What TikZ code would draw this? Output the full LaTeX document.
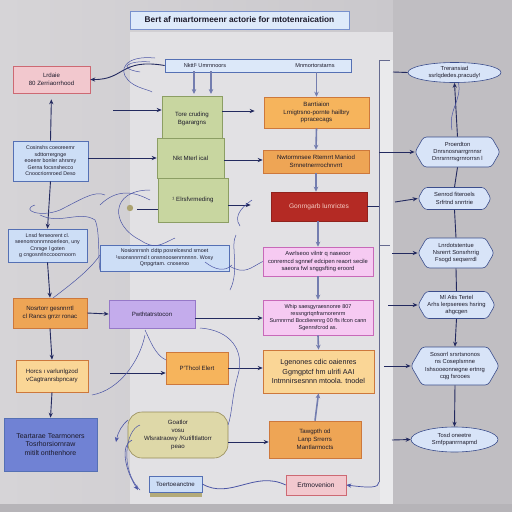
\documentclass[tikz,border=0pt]{standalone}
\usepackage{fontspec}
\setmainfont{Liberation Sans}
\usetikzlibrary{shapes.geometric,shapes.symbols,arrows.meta}
\definecolor{bgA}{RGB}{214,212,215}
\definecolor{bgB}{RGB}{202,200,204}
\definecolor{rightbg}{RGB}{192,190,194}
\definecolor{panelc}{RGB}{226,225,228}
\definecolor{stripc}{RGB}{234,234,236}
\definecolor{bottomc}{RGB}{182,180,184}
\definecolor{navy}{RGB}{35,42,95}
\definecolor{midblue}{RGB}{115,125,175}
\definecolor{curlc}{RGB}{75,85,165}
\definecolor{txt}{RGB}{28,26,42}
\definecolor{titlef}{RGB}{222,234,250}
\definecolor{titled}{RGB}{120,145,205}
\definecolor{pinkf}{RGB}{242,200,206}
\definecolor{pinkd}{RGB}{205,105,115}
\definecolor{greenf}{RGB}{200,214,160}
\definecolor{greend}{RGB}{140,158,100}
\definecolor{orf}{RGB}{246,180,92}
\definecolor{ord}{RGB}{205,120,60}
\definecolor{or2f}{RGB}{238,165,85}
\definecolor{redf}{RGB}{180,42,36}
\definecolor{redt}{RGB}{245,205,195}
\definecolor{magf}{RGB}{246,202,242}
\definecolor{magd}{RGB}{200,105,185}
\definecolor{ltorf}{RGB}{250,214,150}
\definecolor{bluef}{RGB}{205,222,246}
\definecolor{blued}{RGB}{85,112,180}
\definecolor{purf}{RGB}{196,172,236}
\definecolor{purd}{RGB}{150,120,200}
\definecolor{deepbf}{RGB}{112,130,212}
\definecolor{olivef}{RGB}{222,216,168}
\definecolor{olived}{RGB}{150,140,90}
\definecolor{hexf}{RGB}{216,228,248}
\definecolor{hexd}{RGB}{60,78,140}
\begin{document}
\begin{tikzpicture}[x=1pt,y=-1pt,
  box/.style={draw, line width=0.6pt, align=center, inner sep=1pt, text=txt,
    font=\fontsize{6.1}{7.8}\selectfont},
  hexa/.style={signal, signal to=west and east, signal pointer angle=120, rounded corners=3pt,
    draw=hexd, fill=hexf, line width=0.6pt, align=center, inner sep=0pt, text=txt,
    font=\fontsize{5.8}{7.3}\selectfont},
  ell/.style={ellipse, draw=hexd, fill=hexf, line width=0.6pt, align=center, inner sep=0pt,
    text=txt, font=\fontsize{5.8}{7.3}\selectfont},
  conn/.style={draw=navy, line width=0.9pt, -{Stealth[length=5pt,width=4.2pt]}},
  plain/.style={draw=navy, line width=0.9pt},
  midc/.style={draw=midblue, line width=1.6pt, -{Stealth[length=5pt,width=4.6pt]}},
  curl/.style={draw=curlc, line width=0.5pt},
]
\useasboundingbox (0,0) rectangle (512,512);
% background
\fill[bgB] (0,0) rectangle (512,512);
\shade[left color=bgA, right color=bgB] (0,0) rectangle (393,512);
\fill[rightbg] (393,0) rectangle (512,512);
\fill[panelc] (130,32) rectangle (393,505);
\fill[stripc] (380,60) rectangle (393,505);
\fill[bottomc] (0,504) rectangle (512,512);

% title
\node[box, draw=titled, fill=titlef, minimum width=219pt, minimum height=18pt,
  font=\bfseries\fontsize{8.3}{10}\selectfont] (title) at (239.5,20)
  {Bert af mıartormeenr actorie for mtotenraication};

% top bar
\node[box, draw=blued, fill=bluef!70!white, minimum width=186pt, minimum height=13pt] (topbar) at (258,65.5) {};
\node[font=\fontsize{5.6}{6}\selectfont, text=txt] (tb1) at (205,65.5) {Nkttl¹ Umrnnoors};
\node[font=\fontsize{5.6}{6}\selectfont, text=txt] (tb2) at (315,65.5) {Mnmortorstarns};

% left column
\node[box, draw=pinkd, fill=pinkf, minimum width=77pt, minimum height=27pt] (pinkL) at (51.5,79.5)
  {Lrdaie\\80 Zerriaorrhood};
\node[box, draw=blued, fill=bluef, minimum width=75pt, minimum height=40pt,
  font=\fontsize{5.3}{6.5}\selectfont] (b13) at (50.5,161)
  {Cosinshs coeoreemr\\sdttorrergnge\\eoeenr bonler ahrsmy\\Gerna focsnshecco\\Cnoocriornroed Deso};
\node[box, draw=blued, fill=bluef, minimum width=79pt, minimum height=33pt,
  font=\fontsize{5.3}{6.5}\selectfont] (b14) at (47.5,245.5)
  {Lnsd ferseorent cl.\\seenonronnrnnoerleon, uny\\Cnrsge l goten\\g cngosnrlnccoocrnoorn};
\node[box, draw=blued, fill=bluef, minimum width=129pt, minimum height=26pt,
  font=\fontsize{5.3}{6.5}\selectfont] (bw) at (164.5,258)
  {Nosionrrsnh cldtp posrelcesnd srnoet\\¹ssonsnnrrnd t onsnnoosenrnnnnn. Wosy\\Qrrpgrtam. cnoseroo};
\node[box, draw=ord, fill=or2f, minimum width=74pt, minimum height=30pt] (o16) at (50,313)
  {Nosrtorr gesnnrrtl\\cl Rancs grrzr ronac};
\node[box, draw=purd, fill=purf, minimum width=86pt, minimum height=28pt] (pur) at (152,314)
  {Pwthtatrstocon};
\node[box, draw=ord, fill=ltorf, minimum width=72pt, minimum height=32pt] (lo18) at (52,376)
  {Horcs ı varlunlgzod\\vCagtranrsbpncary};
\node[box, draw=ord, fill=orf, minimum width=62pt, minimum height=32pt] (o19) at (197,368)
  {P'Thcol Elert};
\node[box, draw=blued, fill=deepbf, minimum width=93pt, minimum height=53pt,
  font=\fontsize{7}{8.8}\selectfont] (b20) at (50.5,444.5)
  {Teartarae Tearmoners\\Tosrhorsiornraw\\mitilt onthenhore};
\fill[olived!60!olivef] (150,476) rectangle (202,497);
\node[box, draw=olived, fill=olivef, rounded corners=14pt, minimum width=100pt, minimum height=46pt] (olv) at (178,435)
  {Goatlor\\vosu\\Wlsratraowy /Kutifltlattorr\\peao};
\node[box, draw=blued, fill=bluef, minimum width=53pt, minimum height=16pt] (sb) at (175.5,484)
  {Toertoeanctne};

% green stack
\node[box, draw=greend, fill=greenf, minimum width=60pt, minimum height=42pt] (g1) at (192,117)
  {\\Tore cruding\\Bgarargns};
\node[box, draw=greend, fill=greenf, minimum width=67pt, minimum height=40pt] (g2) at (190.5,158)
  {Nkt Mterl ical};
\node[box, draw=greend, fill=greenf, minimum width=70pt, minimum height=44pt] (g3) at (193,200)
  {¹ Elrsfvrmeding};

% middle column
\node[box, draw=ord, fill=orf, minimum width=105pt, minimum height=31pt] (o1) at (316.5,112.5)
  {Barrtiaion\\Lrnigtrsno-pornte hailbry\\ppracecags};
\node[box, draw=ord, fill=or2f, minimum width=106pt, minimum height=23pt] (o2) at (316,161.5)
  {Nwtormnsee Rtemrrt Maniod\\Srnnetnerrrochnvrrt};
\node[box, draw=redf!80!black, fill=redf, text=redt, minimum width=96pt, minimum height=29pt,
  font=\fontsize{6.6}{8}\selectfont] (red) at (319,206.5)
  {Gonrngarb lumrictes};
\node[box, draw=magd, fill=magf, minimum width=110pt, minimum height=29pt,
  font=\fontsize{5.8}{7.4}\selectfont] (p1) at (318,261.5)
  {Awrlseoo vilntr q naseoor\\conrerncd sgnnef edcipen reaort secile\\saeora fwl snggsfting eroord};
\node[box, draw=magd, fill=magf, minimum width=110pt, minimum height=35pt,
  font=\fontsize{5.5}{6.8}\selectfont] (p2) at (318,317.5)
  {Whip saesgyraesnonre 807\\ressngrtqnfrarnorenrm\\Surnnrrnd Bocdierenrg 00 fls ifcon cann\\Sgenrsfcrod as.};
\node[box, draw=ord, fill=ltorf, minimum width=111pt, minimum height=43pt,
  font=\fontsize{7.2}{9.6}\selectfont] (lo) at (318.5,371.5)
  {Lgenones cdic oaienres\\Ggmgptcf hm ulrifi AAI\\Intmnirsesnnn mtoola. tnodel};
\node[box, draw=ord, fill=or2f, minimum width=92pt, minimum height=37pt] (o3) at (315,439.5)
  {Tawgpth od\\Lanp Srrerrs\\Mantlarmocts};
\node[box, draw=pinkd, fill=pinkf, minimum width=60pt, minimum height=20pt,
  font=\fontsize{6.6}{7.5}\selectfont] (ps) at (316,485)
  {Ertmovenion};

% right column
\node[ell, minimum width=93pt, minimum height=20pt] (e23) at (454.5,72.5)
  {Treransiad\\ssrlqdedes.pracudy!};
\node[hexa, minimum width=85pt, minimum height=30pt] (h24) at (457.5,152)
  {Proerdton\\Dnrsnosnarrgrnnsr\\Dnrsrnrrsgrnrorrsn l};
\node[hexa, minimum width=73pt, minimum height=22pt] (h25) at (454.5,198.5)
  {Senrod fiteroels\\Srfrtnd snrrtrie};
\node[hexa, minimum width=76pt, minimum height=30pt] (h26) at (456,253)
  {Lnrdotstentue\\Nsrerrt Sonsrhrrig\\Fsogd seqserrdl};
\node[hexa, minimum width=77pt, minimum height=27pt] (h27) at (456.5,305)
  {Ml Atis Tertel\\Arhs lerpserees hsring\\ahgcgen};
\node[hexa, minimum width=88pt, minimum height=38pt] (h28) at (455,366)
  {Sosorrl srsrtsnonos\\ns Coseplsrnne\\Ishsooeonnegne ertnrg\\cqg fsrooes};
\node[ell, minimum width=87pt, minimum height=25pt] (e29) at (454.5,439.5)
  {Tosd oneetre\\Srnfppanrrnapmd};

% bracket line
\coordinate (vt) at (379,60);
\coordinate (vb) at (379,482);
\draw[draw=navy!70, line width=0.6pt] (390,60) -- (vt) -- (vb);
\draw[plain] (393,72) -- (e23.west);
\draw[conn] (vt |- h24.west) -- (h24.west);
\draw[plain] (red.east) -- (red.east -| vt);
\draw[conn] (395,202) -- (h25.west);
\draw[draw=navy!70, line width=0.6pt] (vt |- 0,245) -- (390,245);
\draw[conn] (392,253) -- (h26.west);
\draw[conn] (388,305) -- (h27.west);
\draw[conn] (384,366) -- (h28.west);
\draw[conn] (392,440) -- (e29.west);

% right vertical links
\draw[conn] (h24.north) -- (e23.south);
\draw[curl] (e23.south) ++(4,0) .. controls (462,100) and (448,110) .. (452,130);
\draw[plain] (h24.south) -- (h25.north);
\draw[plain] (h25.south) -- (h26.north);
\draw[plain] (h26.south) -- (h27.north);
\draw[conn] (h27.south) -- (h28.north);
\draw[conn] (h28.south) -- (e29.north);

% middle vertical arrows
\draw[midc] (tb1.south -| 194,0) -- (194,94);
\draw[midc] (tb1.south -| 211,0) -- (211,94);
\draw[midc] (topbar.south -| o1.north) -- (o1.north);
\draw[midc] (o1.south) -- (o2.north);
\draw[midc] (o2.south) -- (o2.south |- red.north);
\draw[midc] (red.south -| p1.north) -- (p1.north);
\draw[midc] (p1.south) -- (p2.north);
\draw[midc] (p2.south) -- (lo.north);
\draw[midc] (o3.north) -- (lo.south);

% left column links
\draw[conn, shorten >=6pt] (b13.north) -- (pinkL.south);
\draw[conn] (b13.south) -- (b14.north);
\draw[conn] (b14.south) -- (o16.north);
\draw[conn] (o16.east) -- (pur.west);
\draw[conn] (o16.south) -- (lo18.north);
\draw[conn] (lo18.south) -- (b20.north);
\draw[conn] (topbar.west) .. controls (120,58) and (125,80) .. (pinkL.east);

% horizontal links
\coordinate (g1in) at (113,110);
\draw[conn] (g1in) -- (g1.west |- g1in);
\draw[conn, shorten >=9pt] (g1.east |- 0,111) -- (o1.west |- 0,111);
\draw[conn] (b13.east |- 0,158) -- (g2.west |- 0,158);
\draw[conn] (g2.east |- 0,160) -- (o2.west |- 0,160);
\draw[conn, shorten >=20pt] (g3.east |- 0,205) -- (red.west |- 0,205);
\draw[conn] (pur.east |- 0,318) -- (p2.west |- 0,318);
\coordinate (o19in) at (110,373);
\draw[conn] (o19in) -- (o19.west |- o19in);
\draw[conn] (o19.east) -- (lo.west |- o19.east);
\draw[conn] (olv.east |- 0,442) -- (o3.west |- 0,442);
\draw[curl, line width=0.8pt] (sb.east) .. controls (230,500) and (255,470) .. (ps.west);
\draw[conn, draw=curlc, line width=0.7pt] (vb) .. controls (379,488) and (370,488) .. (ps.east);
\draw[curl] (bw.east) ++(0,8) .. controls (245,275) and (250,268) .. (p1.west);

% decorative curves
\draw[curl] (155,58) .. controls (125,55) and (118,70) .. (128,80) .. controls (135,88) and (150,90) .. (152,92);
\draw[curl] (150,62) .. controls (130,60) and (115,68) .. (140,72);
\fill[olived!70!olivef] (130,208) circle (3.2pt);
\draw[plain] (137,209) -- (158,209);
\draw[curl] (100,205) .. controls (120,185) and (140,195) .. (150,200);
\draw[curl] (150,190) .. controls (110,190) and (110,225) .. (140,240) .. controls (155,250) and (160,245) .. (175,238);
\draw[curl] (35,205) .. controls (20,210) and (40,218) .. (60,210) .. controls (80,200) and (95,190) .. (105,195);
\draw[curl] (40,215) .. controls (60,225) and (80,210) .. (95,220) .. controls (100,230) and (98,260) .. (100,270);
\draw[curl] (53,298) .. controls (70,285) and (90,270) .. (100,255);
\draw[curl] (230,290) .. controls (240,270) and (230,245) .. (236,235);
\draw[curl] (240,226) .. controls (232,215) and (245,205) .. (252,200);
\draw[curl] (145,330) .. controls (150,340) and (155,355) .. (166,360);
\draw[curl] (200,328) .. controls (230,330) and (245,350) .. (238,375) .. controls (232,395) and (232,415) .. (228,425);
\draw[curl] (145,335) .. controls (140,360) and (120,390) .. (92,395);
\draw[curl] (140,425) .. controls (125,430) and (120,470) .. (140,490);
\draw[conn, draw=curlc, line width=0.6pt] (132,440) .. controls (120,445) and (125,470) .. (138,490);
\draw[conn, draw=curlc, line width=0.6pt] (128,420) .. controls (122,425) and (118,432) .. (116,442);
\draw[curl] (205,262) .. controls (215,270) and (225,272) .. (232,265);
\end{tikzpicture}
\end{document}
